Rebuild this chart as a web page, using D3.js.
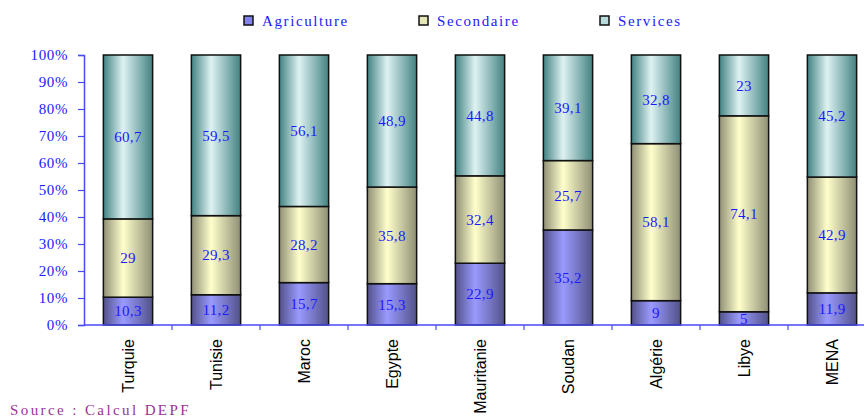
<!DOCTYPE html>
<html>
<head>
<meta charset="utf-8">
<script src="https://cdn.jsdelivr.net/npm/d3@7/dist/d3.min.js"></script>
<style>
  html, body { margin: 0; padding: 0; background: #fff; }
  svg { display: block; }
</style>
</head>
<body>
<div id="chart"></div>
<script>
// Répartition sectorielle (%)
const countries = ["Turquie", "Tunisie", "Maroc", "Egypte", "Mauritanie", "Soudan", "Algérie", "Libye", "MENA"];
const agriculture = [10.3, 11.2, 15.7, 15.3, 22.9, 35.2, 9, 5, 11.9];
const secondaire = [29, 29.3, 28.2, 35.8, 32.4, 25.7, 58.1, 74.1, 42.9];
const services = [60.7, 59.5, 56.1, 48.9, 44.8, 39.1, 32.8, 23, 45.2];
const seriesNames = ["Agriculture", "Secondaire", "Services"];
const yTicks = [0, 0.1, 0.2, 0.3, 0.4, 0.5, 0.6, 0.7, 0.8, 0.9, 1];

const W = 864, H = 417;
const margin = { left: 84, top: 55, bottom: 92 };
const plotH = H - margin.top - margin.bottom;

const svg = d3.select("#chart").append("svg").attr("width", W).attr("height", H);

// Horizontal shading for the bars: dark edges, light band left of centre
const palettes = [
  { edge: "#52528a", mid: "#9a9aff", swatch: "#8484e6" },
  { edge: "#8f8f76", mid: "#ffffcc", swatch: "#e6e6b8" },
  { edge: "#428282", mid: "#dff2f2", swatch: "#b8dcdc" }
];
const defs = svg.append("defs");
palettes.forEach((p, i) => {
  const g = defs.append("linearGradient").attr("id", "grad" + i)
    .attr("x1", "0%").attr("x2", "100%").attr("y1", "0%").attr("y2", "0%");
  g.append("stop").attr("offset", "0%").attr("stop-color", p.edge);
  g.append("stop").attr("offset", "40%").attr("stop-color", p.mid);
  g.append("stop").attr("offset", "100%").attr("stop-color", p.edge);
});

const rows = countries.map((c, i) => ({
  country: c,
  Agriculture: agriculture[i],
  Secondaire: secondaire[i],
  Services: services[i]
}));

const stack = d3.stack().keys(seriesNames).offset(d3.stackOffsetExpand);
const layers = stack(rows);

const x = d3.scaleBand().domain(countries)
  .range([margin.left, margin.left + 88 * countries.length])
  .paddingInner(0.44).paddingOuter(0.22);
const y = d3.scaleLinear().domain([0, 1]).range([margin.top + plotH, margin.top]);

const blue = "#1a1aff";
const axisBlue = "#4a4af5";
const serif = "'Liberation Serif', 'Times New Roman', serif";

// Bars
const layerG = svg.append("g").selectAll("g").data(layers).join("g")
  .attr("fill", (d, i) => `url(#grad${i})`);
layerG.selectAll("rect").data(d => d).join("rect")
  .attr("x", d => x(d.data.country))
  .attr("width", x.bandwidth())
  .attr("y", d => y(d[1]))
  .attr("height", d => y(d[0]) - y(d[1]))
  .attr("stroke", "#111")
  .attr("stroke-width", 1.5);

// Value labels
const labelsG = svg.append("g");
layers.forEach(layer => {
  layer.forEach(d => {
    labelsG.append("text")
      .attr("x", x(d.data.country) + x.bandwidth() / 2)
      .attr("y", (y(d[0]) + y(d[1])) / 2)
      .attr("dy", "0.35em")
      .attr("text-anchor", "middle")
      .attr("font-family", serif)
      .attr("font-size", 15)
      .attr("letter-spacing", "0.3px")
      .attr("fill", blue)
      .text(String(d.data[layer.key]).replace(".", ","));
  });
});

// Y axis
const yAxis = svg.append("g").attr("transform", `translate(${margin.left},0)`)
  .call(d3.axisLeft(y).tickValues(yTicks).tickFormat(d3.format(".0%")).tickSize(6).tickPadding(10));
yAxis.select(".domain").attr("stroke", axisBlue).attr("stroke-width", 1.5);
yAxis.selectAll(".tick line").attr("stroke", axisBlue).attr("stroke-width", 1.2);
yAxis.selectAll(".tick text")
  .attr("fill", blue)
  .attr("font-family", serif)
  .attr("font-size", 15)
  .attr("letter-spacing", "0.6px");

// X axis: baseline with ticks between categories
const xAxisG = svg.append("g");
xAxisG.append("line")
  .attr("x1", margin.left).attr("x2", W)
  .attr("y1", y(0)).attr("y2", y(0))
  .attr("stroke", axisBlue).attr("stroke-width", 1.5);
countries.forEach((c, i) => {
  const bx = x.range()[0] + x.step() * i;
  if (i > 0) {
    xAxisG.append("line")
      .attr("x1", bx).attr("x2", bx)
      .attr("y1", y(0)).attr("y2", y(0) + 5)
      .attr("stroke", axisBlue).attr("stroke-width", 1.2);
  }
  xAxisG.append("text")
    .attr("transform", `translate(${x(c) + x.bandwidth() / 2 + 6},${y(0) + 14}) rotate(-90)`)
    .attr("text-anchor", "end")
    .attr("font-family", "'Liberation Sans', Arial, sans-serif")
    .attr("font-size", 16)
    .attr("fill", "#000")
    .text(c);
});

// Legend
const legendPos = [244, 419, 600];
const legend = svg.append("g");
seriesNames.forEach((s, i) => {
  legend.append("rect")
    .attr("x", legendPos[i]).attr("y", 16)
    .attr("width", 9).attr("height", 9)
    .attr("fill", palettes[i].swatch)
    .attr("stroke", "#111").attr("stroke-width", 1.5);
  legend.append("text")
    .attr("x", legendPos[i] + 18).attr("y", 26)
    .attr("font-family", serif)
    .attr("font-size", 15)
    .attr("letter-spacing", "1.6px")
    .attr("fill", blue)
    .text(s);
});

// Source
svg.append("text")
  .attr("x", 10).attr("y", 415)
  .attr("font-family", serif)
  .attr("font-size", 15)
  .attr("letter-spacing", "2.4px")
  .attr("fill", "#993399")
  .text("Source : Calcul DEPF");
</script>
</body>
</html>
